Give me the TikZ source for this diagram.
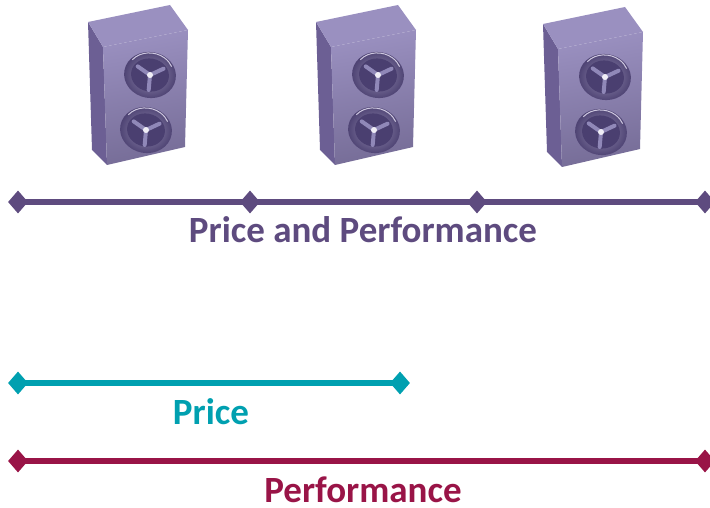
\documentclass[tikz,border=0pt]{standalone}
\usepackage{fontspec}
\setmainfont{Carlito}
\usetikzlibrary{shapes.geometric}
\definecolor{plum}{HTML}{5E4B7F}
\definecolor{tealc}{HTML}{00A0B0}
\definecolor{wine}{HTML}{991447}
\definecolor{boxfront}{HTML}{8B80B2}
\definecolor{boxside}{HTML}{6C5F94}
\definecolor{boxtop}{HTML}{9A90C0}
\definecolor{fanring}{HTML}{6A5E92}
\definecolor{fanin}{HTML}{4A3F70}
\definecolor{fanblade}{HTML}{9088B8}
\tikzset{
  tip/.style={diamond,fill=#1,minimum width=20pt,minimum height=23pt,inner sep=0pt},
  bar/.style={line width=6.5pt,#1},
  lbl/.style={font=\bfseries\fontsize{37}{42}\selectfont,text=#1,anchor=base,inner sep=0pt},
  fan/.pic={
    \shade[inner color=fanring!70!white,outer color=fanin,rotate=-10] (0,0) ellipse (26 and 23);
    \draw[boxtop!50!white,line width=1pt,rotate=-10] (-20,-12) arc (210:330:23 and 20);
    \fill[fanin,rotate=-10] (0,0) ellipse (19 and 16.5);
    \foreach \a in {-25,95,215}
      \draw[fanblade,line width=4pt,line cap=round] (0,0) -- (\a:15);
    \fill[white!85!boxtop] (0,0) circle (3);
  },
  server/.pic={
    \fill[boxside] (0,0) -- (15,25) -- (19,143) -- (4,128) -- cycle;
    \shade[top color=boxtop,bottom color=boxfront!85!black,shading angle=10]
      (15,25) -- (100,8) -- (97,125) -- (19,143) -- cycle;
    \fill[boxtop] (0,0) -- (82,-17) -- (100,8) -- (15,25) -- cycle;
    \pic at (62,53) {fan};
    \pic at (58,108) {fan};
  }
}
\begin{document}
\begin{tikzpicture}[x=1pt,y=-1pt]
\useasboundingbox (0,0) rectangle (710,508);
% servers
\pic at (88,22) {server};
\pic at (316,22) {server};
\pic at (543,24) {server};
% price and performance
\node[tip=plum] (pp1) at (18,202) {};
\node[tip=plum] (pp2) at (250,202) {};
\node[tip=plum] (pp3) at (477,202) {};
\node[tip=plum] (pp4) at (705,202) {};
\draw[bar=plum] (pp1.center) -- (pp2.center) -- (pp3.center) -- (pp4.center);
\node[lbl=plum] (ppl) at (363,243) {Price and Performance};
% price
\node[tip=tealc] (pr1) at (18,383) {};
\node[tip=tealc] (pr2) at (400,383) {};
\draw[bar=tealc] (pr1.center) -- (pr2.center);
\node[lbl=tealc] (prl) at (211,424) {Price};
% performance
\node[tip=wine] (pf1) at (18,461) {};
\node[tip=wine] (pf2) at (705,461) {};
\draw[bar=wine] (pf1.center) -- (pf2.center);
\node[lbl=wine] (pfl) at (363,502) {Performance};
\end{tikzpicture}
\end{document}
